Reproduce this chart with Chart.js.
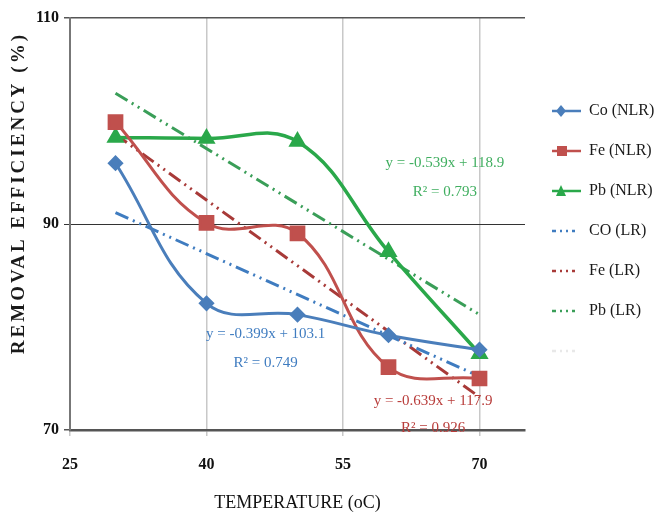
<!DOCTYPE html>
<html>
<head>
<meta charset="utf-8">
<script src="https://cdn.jsdelivr.net/npm/chart.js@4.4.1/dist/chart.umd.min.js"></script>
<style>
  html, body { margin: 0; padding: 0; background: #fff; }
  canvas { display: block; }
</style>
</head>
<body>
<canvas id="myChart" width="655" height="516"></canvas>
<script>
// measured temperatures and removal efficiencies (%)
const temperatures = [30, 40, 50, 60, 70];
const coNLR = [95.9, 82.3, 81.2, 79.2, 77.8];
const feNLR = [99.9, 90.1, 89.1, 76.1, 75.0];
const pbNLR = [98.4, 98.3, 98.0, 87.3, 77.4];

// linear trend lines, read at both ends
const fitTemps = [30, 70];
const coLR = [91.1, 75.2];
const feLR = [98.7, 73.2];
const pbLR = [102.7, 81.2];

const xTicks = [25, 40, 55, 70];
const yTicks = [70, 90, 110];

const legendNames = ["Co (NLR)", "Fe (NLR)", "Pb (NLR)", "CO (LR)", "Fe (LR)", "Pb (LR)", ""];

const BLUE = "#4a7ebb";
const RED = "#c0504d";
const GREEN = "#2aa84a";
const SERIF = "'Liberation Serif', 'Times New Roman', serif";
const trendDash = [14, 5, 2, 5, 2, 5];

// trend line equations, placed in data units
const equations = [
  { lines: ["y = -0.399x + 103.1", "R\u00b2 = 0.749"], x: 46.5, y: [79.3, 76.5], color: "#3f7cc0" },
  { lines: ["y = -0.539x + 118.9", "R\u00b2 = 0.793"], x: 66.2, y: [95.9, 93.1], color: "#3fae5f" },
  { lines: ["y = -0.639x + 117.9", "R\u00b2 = 0.926"], x: 64.9, y: [72.8, 70.2], color: "#b83c3a" },
];

const toPoints = (xs, ys) => xs.map((x, i) => ({ x: x, y: ys[i] }));

function legendIcon(color, trend, marker) {
  const c = document.createElement("canvas");
  c.width = 32;
  c.height = 14;
  const g = c.getContext("2d");
  g.strokeStyle = color;
  g.fillStyle = color;
  g.lineWidth = 2.5;
  if (trend) g.setLineDash([4, 4, 2, 4, 2, 4]);
  g.beginPath();
  g.moveTo(3, 7);
  g.lineTo(trend ? 26 : 32, 7);
  g.stroke();
  g.setLineDash([]);
  g.beginPath();
  if (marker === "rectRot") {
    g.moveTo(12, 1); g.lineTo(17, 7); g.lineTo(12, 13); g.lineTo(7, 7);
  } else if (marker === "rect") {
    g.rect(8, 2, 10, 10);
  } else if (marker === "triangle") {
    g.moveTo(12, 1); g.lineTo(17, 12); g.lineTo(7, 12);
  }
  g.closePath();
  if (marker) g.fill();
  return c;
}

const legendIcons = [
  legendIcon(BLUE, false, "rectRot"),
  legendIcon(RED, false, "rect"),
  legendIcon(GREEN, false, "triangle"),
  legendIcon("#3f7cc0", true),
  legendIcon("#a83a38", true),
  legendIcon("#3a9e58", true),
  legendIcon("#e8e8e8", true),
];

const annotationPlugin = {
  id: "annotations",
  afterDraw(chart) {
    const { ctx, scales } = chart;
    const x = scales.x;
    const y = scales.y;
    ctx.save();
    ctx.textAlign = "center";
    ctx.textBaseline = "middle";
    ctx.font = "15px " + SERIF;
    equations.forEach((eq) => {
      ctx.fillStyle = eq.color;
      eq.lines.forEach((t, i) => {
        ctx.fillText(t, x.getPixelForValue(eq.x), y.getPixelForValue(eq.y[i]));
      });
    });

    // y axis title sits a bit above the middle of the axis
    ctx.translate(y.left + 19, y.getPixelForValue(93));
    ctx.rotate(-Math.PI / 2);
    ctx.font = "bold 19px " + SERIF;
    ctx.letterSpacing = "3px";
    ctx.fillStyle = "#1a1a1a";
    ctx.fillText("REMOVAL EFFICIENCY (%)", 0, 0);
    ctx.restore();
  },
};

new Chart("myChart", {
  type: "scatter",
  data: {
    datasets: [
      {
        label: legendNames[0],
        data: toPoints(temperatures, coNLR),
        showLine: true,
        tension: 0.4,
        borderColor: BLUE,
        backgroundColor: BLUE,
        borderWidth: 3,
        pointStyle: "rectRot",
        pointRadius: 6,
      },
      {
        label: legendNames[1],
        data: toPoints(temperatures, feNLR),
        showLine: true,
        tension: 0.4,
        borderColor: RED,
        backgroundColor: RED,
        borderWidth: 3,
        pointStyle: "rect",
        pointRadius: 9,
      },
      {
        label: legendNames[2],
        data: toPoints(temperatures, pbNLR),
        showLine: true,
        tension: 0.4,
        borderColor: GREEN,
        backgroundColor: GREEN,
        borderWidth: 3.5,
        pointStyle: "triangle",
        pointRadius: 7,
      },
      {
        label: legendNames[3],
        data: toPoints(fitTemps, coLR),
        showLine: true,
        borderColor: "#3f7cc0",
        borderWidth: 3,
        borderDash: trendDash,
        pointRadius: 0,
      },
      {
        label: legendNames[4],
        data: toPoints(fitTemps, feLR),
        showLine: true,
        borderColor: "#a83a38",
        borderWidth: 3,
        borderDash: trendDash,
        pointRadius: 0,
      },
      {
        label: legendNames[5],
        data: toPoints(fitTemps, pbLR),
        showLine: true,
        borderColor: "#3a9e58",
        borderWidth: 3,
        borderDash: trendDash,
        pointRadius: 0,
      },
    ],
  },
  options: {
    responsive: false,
    animation: false,
    layout: { padding: { top: 18, left: 0, right: 0, bottom: 0 } },
    plugins: {
      tooltip: { enabled: false },
      legend: {
        position: "right",
        fullSize: false,
        maxWidth: 130,
        align: "center",
        title: { display: true, text: "", font: { size: 10 }, padding: 1 },
        labels: {
          usePointStyle: true,
          pointStyleWidth: 32,
          padding: 24,
          color: "#1a1a1a",
          font: { family: SERIF, size: 16 },
          generateLabels: () =>
            legendIcons.map((icon, i) => ({
              text: legendNames[i],
              pointStyle: icon,
              fillStyle: "transparent",
              strokeStyle: "transparent",
              lineWidth: 0,
              fontColor: "#1a1a1a",
              hidden: false,
              datasetIndex: i,
            })),
        },
      },
    },
    scales: {
      x: {
        type: "linear",
        min: 25,
        max: 75,
        afterBuildTicks: (scale) => {
          scale.ticks = xTicks.map((v) => ({ value: v }));
        },
        afterFit: (scale) => {
          scale.height = 86;
        },
        ticks: {
          padding: 19,
          color: "#111",
          font: { family: SERIF, size: 16, weight: "bold" },
        },
        grid: { color: "#c8c8c8", lineWidth: 1.5, tickLength: 6 },
        border: { color: "#555", width: 2.5 },
        title: {
          display: true,
          text: "TEMPERATURE (oC)",
          color: "#111",
          font: { family: SERIF, size: 18 },
          padding: { top: 0, bottom: 2 },
        },
      },
      y: {
        min: 70,
        max: 110,
        afterBuildTicks: (scale) => {
          scale.ticks = yTicks.map((v) => ({ value: v }));
        },
        afterFit: (scale) => {
          scale.width = 70;
        },
        ticks: {
          padding: 5,
          color: "#111",
          font: { family: SERIF, size: 16, weight: "bold" },
        },
        grid: {
          color: (c) => (c.tick && c.tick.value === 90 ? "#333" : "#555"),
          lineWidth: (c) => (c.tick && c.tick.value === 90 ? 1 : 1.5),
          tickLength: 6,
        },
        border: { color: "#777", width: 2 },
      },
    },
  },
  plugins: [annotationPlugin],
});
</script>
</body>
</html>
